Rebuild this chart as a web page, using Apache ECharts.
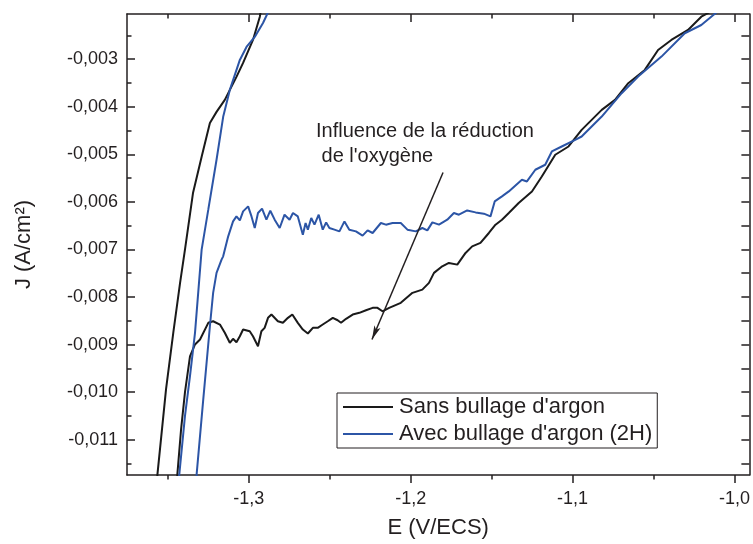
<!DOCTYPE html>
<html>
<head>
<meta charset="utf-8">
<script src="https://cdn.jsdelivr.net/npm/echarts@6/dist/echarts.min.js"></script>
<style>
  html, body { margin: 0; padding: 0; background: #fff; }
  #chart { width: 753px; height: 544px; }
</style>
</head>
<body>
<div id="chart"></div>
<script>
// Potential E (V/ECS) and current density J (A/cm²) for each sweep.
// Each curve is one closed path: descending branch, turnaround below the
// visible window, then the return branch.
const sansBullageE = [
  -1.2914, -1.2932, -1.2974, -1.3035, -1.3076, -1.3148, -1.3199, -1.3240, -1.3291, -1.3344,
  -1.3394, -1.3424, -1.3466, -1.3511, -1.3564, -1.3572,
  -1.3449, -1.3441, -1.3418, -1.3394, -1.3363, -1.3332, -1.3301, -1.3250, -1.3220,
  -1.3178, -1.3148, -1.3117, -1.3097, -1.3076, -1.3055, -1.3035, -1.2994, -1.2974, -1.2943,
  -1.2922, -1.2902, -1.2881, -1.2860, -1.2820, -1.2789, -1.2758, -1.2731, -1.2697, -1.2666,
  -1.2635, -1.2604, -1.2574, -1.2543, -1.2512, -1.2481, -1.2451, -1.2430, -1.2399, -1.2358,
  -1.2317, -1.2276, -1.2235, -1.2205, -1.2174, -1.2133, -1.2061, -1.1989, -1.1928, -1.1887,
  -1.1856, -1.1805, -1.1764, -1.1712, -1.1661, -1.1620, -1.1569, -1.1517, -1.1476, -1.1436,
  -1.1394, -1.1333, -1.1251, -1.1190, -1.1107, -1.1025, -1.0944, -1.0820, -1.0738, -1.0656,
  -1.0554, -1.0472, -1.0390, -1.0287, -1.0205, -1.0072
];
const sansBullageJ = [
  -0.001755, -0.002112, -0.002595, -0.003078, -0.003372, -0.003855, -0.004107, -0.004339, -0.005051, -0.005807,
  -0.007004, -0.007697, -0.008747, -0.009944, -0.011729, -0.01204,
  -0.01204, -0.011730, -0.010784, -0.010005, -0.009249, -0.008997, -0.008894, -0.008543, -0.008510,
  -0.008579, -0.008753, -0.008963, -0.008879, -0.008951, -0.008825, -0.008684, -0.008720, -0.008825, -0.009035,
  -0.008720, -0.008648, -0.008438, -0.008369, -0.008510, -0.008543, -0.008438, -0.008369, -0.008543, -0.008684,
  -0.008768, -0.008648, -0.008648, -0.008579, -0.008510, -0.008438, -0.008489, -0.008543, -0.008459, -0.008369,
  -0.008333, -0.008279, -0.008228, -0.008228, -0.008300, -0.008228, -0.008123, -0.007913, -0.007844, -0.007703,
  -0.007493, -0.007355, -0.007283, -0.007319, -0.007073, -0.006935, -0.006863, -0.006654, -0.006479, -0.006374,
  -0.006234, -0.006024, -0.005780, -0.005465, -0.005009, -0.004835, -0.004485, -0.004065, -0.003855, -0.003504,
  -0.003225, -0.002805, -0.002595, -0.002385, -0.002106, -0.001860
];

const avecBullageE = [
  -1.2859, -1.2883, -1.2912, -1.2963, -1.3014, -1.3055, -1.3117, -1.3158, -1.3199, -1.3250,
  -1.3291, -1.3332, -1.3363, -1.3394, -1.3429, -1.3437,
  -1.3326, -1.3322, -1.3281, -1.3240, -1.3220, -1.3199, -1.3168, -1.3158, -1.3127, -1.3097,
  -1.3076, -1.3055, -1.3035, -1.3004, -1.2983, -1.2963, -1.2943, -1.2918, -1.2891, -1.2867,
  -1.2840, -1.2809, -1.2779, -1.2748, -1.2727, -1.2697, -1.2666, -1.2649, -1.2635, -1.2614,
  -1.2594, -1.2568, -1.2543, -1.2522, -1.2502, -1.2471, -1.2440, -1.2409, -1.2379, -1.2338,
  -1.2297, -1.2266, -1.2235, -1.2184, -1.2153, -1.2112, -1.2061, -1.2020, -1.1968, -1.1928,
  -1.1897, -1.1866, -1.1825, -1.1774, -1.1733, -1.1702, -1.1651, -1.1599, -1.1548, -1.1507,
  -1.1481, -1.1436, -1.1394, -1.1313, -1.1282, -1.1230, -1.1169, -1.1128, -1.1067, -1.0984,
  -1.0944, -1.0820, -1.0697, -1.0595, -1.0451, -1.0307, -1.0205, -1.0123, -1.0041
];
const avecBullageJ = [
  -0.001860, -0.002028, -0.002238, -0.002532, -0.002742, -0.003015, -0.003645, -0.004212, -0.005114, -0.006164,
  -0.007004, -0.008753, -0.009665, -0.010505, -0.011729, -0.01204,
  -0.01204, -0.011729, -0.010154, -0.008615, -0.007913, -0.007493, -0.007214, -0.007145, -0.006725, -0.006410,
  -0.006305, -0.006389, -0.006200, -0.006095, -0.006305, -0.006549, -0.006234, -0.006143, -0.006374, -0.006185,
  -0.006374, -0.006549, -0.006269, -0.006374, -0.006234, -0.006305, -0.006689, -0.006444, -0.006584, -0.006339,
  -0.006479, -0.006269, -0.006584, -0.006431, -0.006549, -0.006584, -0.006620, -0.006410, -0.006584, -0.006620,
  -0.006710, -0.006599, -0.006654, -0.006444, -0.006479, -0.006444, -0.006444, -0.006584, -0.006620, -0.006549,
  -0.006599, -0.006431, -0.006479, -0.006374, -0.006234, -0.006269, -0.006179, -0.006221, -0.006248, -0.006305,
  -0.005990, -0.005885, -0.005780, -0.005534, -0.005570, -0.005324, -0.005219, -0.004940, -0.004835, -0.004694,
  -0.004625, -0.004205, -0.003714, -0.003365, -0.002945, -0.002454, -0.002280, -0.002049, -0.001818
];

const seriesNames = ["Sans bullage d'argon", "Avec bullage d'argon (2H)"];
const seriesColors = ['#1a1a1a', '#2c55a6'];

// Tick positions
const xMajorTicks = [-1.3, -1.2, -1.1, -1.0];
const xMinorTicks = [-1.35, -1.25, -1.15, -1.05];
const yMajorTicks = [-0.011, -0.010, -0.009, -0.008, -0.007, -0.006, -0.005, -0.004, -0.003];
const yMinorTicks = [-0.0115, -0.0105, -0.0095, -0.0085, -0.0075, -0.0065, -0.0055, -0.0045, -0.0035, -0.0025];

// Annotation arrow: from tail to head (E, J)
const arrowTail = [-1.1800, -0.005381];
const arrowHead = [-1.2239, -0.008894];

const xRange = [-1.3752, -0.9908];
const yRange = [-0.011743, -0.002049];

const FONT = "'Liberation Sans', Arial, Helvetica, sans-serif";
const INK = '#231f20';

const zip = (xs, ys) => xs.map((x, i) => [x, ys[i]]);

function xAxisDef(position, ticks, len, inside, opts) {
  return Object.assign({
    type: 'value', position: position,
    min: xRange[0], max: xRange[1],
    axisLine: { show: false },
    axisTick: { show: true, inside: inside, length: len, customValues: ticks,
                lineStyle: { color: INK, width: 1.5 } },
    axisLabel: { show: false },
    splitLine: { show: false }
  }, opts || {});
}
function yAxisDef(position, ticks, len, inside, opts) {
  return Object.assign({
    type: 'value', position: position,
    min: yRange[0], max: yRange[1],
    axisLine: { show: false },
    axisTick: { show: true, inside: inside, length: len, customValues: ticks,
                lineStyle: { color: INK, width: 1.5 } },
    axisLabel: { show: false },
    splitLine: { show: false }
  }, opts || {});
}

const chart = echarts.init(document.getElementById('chart'), null, { renderer: 'canvas' });

chart.setOption({
  animation: false,
  backgroundColor: '#fff',
  grid: { left: 127, right: 1.5, top: 14, bottom: 68.5, containLabel: false },
  xAxis: [
    xAxisDef('bottom', xMajorTicks, 8, false, {
      axisLine: { show: true, onZero: false, lineStyle: { color: INK, width: 1.5 } },
      axisLabel: {
        show: true, customValues: xMajorTicks, margin: 15,
        fontFamily: FONT, fontSize: 18, color: INK,
        formatter: v => v.toFixed(1).replace('.', ',')
      },
      name: 'E (V/ECS)', nameLocation: 'middle', nameGap: 42,
      nameTextStyle: { fontFamily: FONT, fontSize: 22, color: INK }
    }),
    xAxisDef('bottom', xMinorTicks, 4.5, false),
    xAxisDef('top', xMajorTicks, 8, true, {
      axisLine: { show: true, onZero: false, lineStyle: { color: INK, width: 1.5 } }
    }),
    xAxisDef('top', xMinorTicks, 4.5, true)
  ],
  yAxis: [
    yAxisDef('left', yMajorTicks, 8, true, {
      axisLine: { show: true, onZero: false, lineStyle: { color: INK, width: 1.5 } },
      axisLabel: {
        show: true, customValues: yMajorTicks, margin: 9,
        fontFamily: FONT, fontSize: 18, color: INK,
        formatter: v => v.toFixed(3).replace('.', ',')
      },
      name: 'J (A/cm²)', nameLocation: 'middle', nameGap: 92,
      nameTextStyle: { fontFamily: FONT, fontSize: 22, color: INK }
    }),
    yAxisDef('left', yMinorTicks, 4.5, true),
    yAxisDef('right', yMajorTicks.concat(yMinorTicks), 8, true, {
      axisLine: { show: true, onZero: false, lineStyle: { color: INK, width: 1.5 } }
    })
  ],
  legend: {
    orient: 'vertical',
    left: 337, top: 393,
    padding: [3, 5, 3, 6],
    itemGap: 5,
    itemWidth: 50, itemHeight: 2,
    icon: 'rect',
    backgroundColor: '#fff',
    borderColor: INK, borderWidth: 1,
    textStyle: { fontFamily: FONT, fontSize: 22, color: INK, padding: [0, 0, 0, 1] },
    data: seriesNames
  },
  series: [
    {
      name: seriesNames[0], type: 'line', xAxisIndex: 0, yAxisIndex: 0,
      data: zip(sansBullageE, sansBullageJ),
      showSymbol: false, symbol: 'none', clip: true,
      color: seriesColors[0],
      lineStyle: { color: seriesColors[0], width: 2 },
      markLine: {
        silent: true,
        symbol: ['none', 'arrow'],
        symbolSize: [5, 14],
        label: { show: false },
        lineStyle: { color: INK, width: 1.5, type: 'solid' },
        emphasis: { disabled: true },
        data: [[ { coord: arrowTail }, { coord: arrowHead } ]]
      }
    },
    {
      name: seriesNames[1], type: 'line', xAxisIndex: 0, yAxisIndex: 0,
      data: zip(avecBullageE, avecBullageJ),
      showSymbol: false, symbol: 'none', clip: true,
      color: seriesColors[1],
      lineStyle: { color: seriesColors[1], width: 2 }
    }
  ],
  graphic: [
    {
      type: 'text', left: 316, top: 119, silent: true,
      style: {
        text: "Influence de la réduction\n de l'oxygène",
        fontFamily: FONT, fontSize: 20, lineHeight: 25, fill: INK
      }
    }
  ]
});
</script>
</body>
</html>
